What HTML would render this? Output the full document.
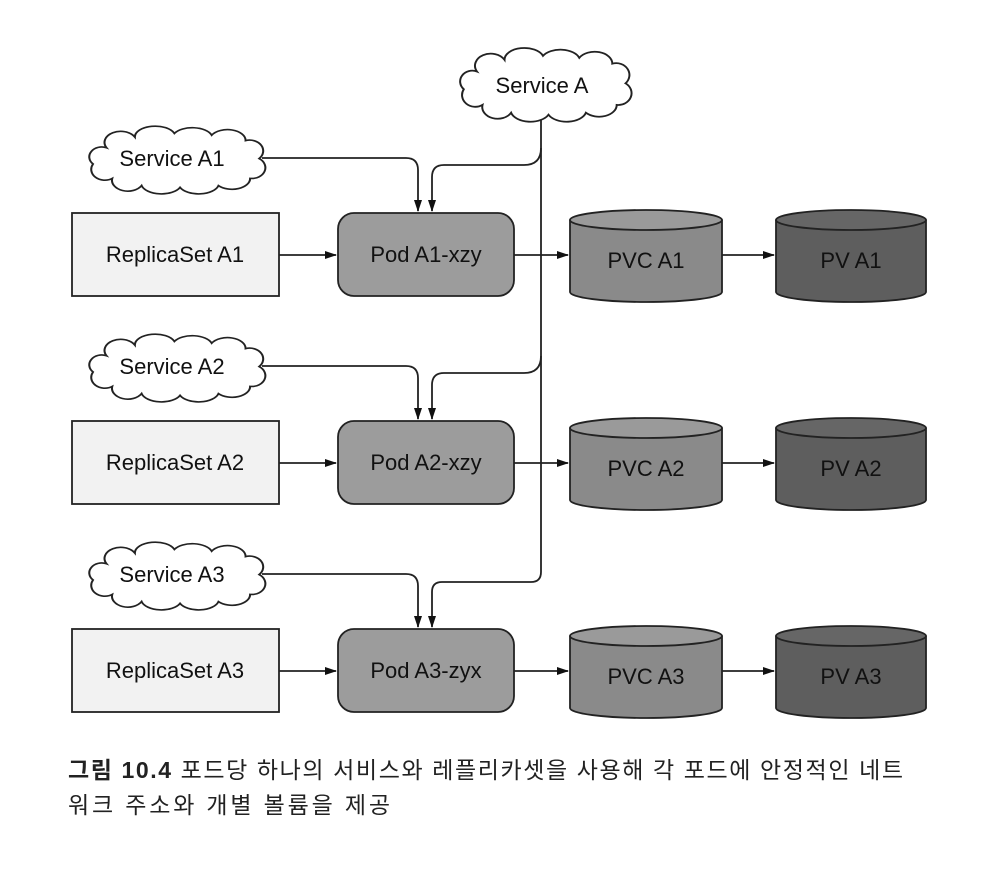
<!DOCTYPE html>
<html><head><meta charset="utf-8"><style>
body{margin:0;background:#fff;}
svg{display:block}
text{font-family:"Liberation Sans","Noto Sans CJK KR",sans-serif;}
</style></head><body>
<svg width="990" height="872" viewBox="0 0 990 872" xmlns="http://www.w3.org/2000/svg">
<defs>
<marker id="ah" markerWidth="12" markerHeight="10" refX="11" refY="5" orient="auto" markerUnits="userSpaceOnUse">
<path d="M0,1 L12,5 L0,9 z" fill="#111"/></marker>
<path id="cloud" d="M20,22 a14,12 0 0 1 25,-12 a18,12 0 0 1 35,-4 a18,12 0 0 1 33,2 a16,12 0 0 1 30,6 a12,12 0 0 1 12,20 a12,12 0 0 1 -8,22 a16,12 0 0 1 -28,8 a18,12 0 0 1 -34,2 a18,12 0 0 1 -34,-2 a14,12 0 0 1 -26,-8 a12,12 0 0 1 -17,-16 a11,11 0 0 1 12,-18 z" fill="#fff" stroke="#222" stroke-width="1.8"/>
</defs>
<g fill="none" stroke="#222" stroke-width="1.8">
<path d="M541,118 V572 Q541,582 531,582 H442 Q432,582 432,592 V627" marker-end="url(#ah)"/>
<path d="M541,148 Q541,165 524,165 H444 Q432,165 432,177 V211" marker-end="url(#ah)"/>
<path d="M541,356 Q541,373 524,373 H444 Q432,373 432,385 V419" marker-end="url(#ah)"/>
<path d="M262,158 H406 Q418,158 418,170 V211" marker-end="url(#ah)"/>
<path d="M262,366 H406 Q418,366 418,378 V419" marker-end="url(#ah)"/>
<path d="M262,574 H406 Q418,574 418,586 V627" marker-end="url(#ah)"/>
</g>
<use href="#cloud" transform="translate(455,50) scale(1.1,0.98)"/>
<text x="542" y="93" font-size="22" text-anchor="middle" fill="#111">Service A</text>
<g id="row1">
<use href="#cloud" transform="translate(84,128) scale(1.13,0.9)"/>
<text x="172" y="166" font-size="22" text-anchor="middle" fill="#111">Service A1</text>
<rect x="72" y="213" width="207" height="83" fill="#f2f2f2" stroke="#222" stroke-width="1.8"/>
<text x="175" y="262" font-size="22" text-anchor="middle" fill="#111">ReplicaSet A1</text>
<rect x="338" y="213" width="176" height="83" rx="16" fill="#9c9c9c" stroke="#222" stroke-width="1.8"/>
<text x="426" y="262" font-size="22" text-anchor="middle" fill="#111">Pod A1-xzy</text>
<path d="M570,220 V292 A76,10 0 0 0 722,292 V220" fill="#8a8a8a" stroke="#222" stroke-width="1.8"/>
<ellipse cx="646" cy="220" rx="76" ry="10" fill="#9a9a9a" stroke="#222" stroke-width="1.8"/>
<text x="646" y="268" font-size="22" text-anchor="middle" fill="#111">PVC A1</text>
<path d="M776,220 V292 A75,10 0 0 0 926,292 V220" fill="#5e5e5e" stroke="#222" stroke-width="1.8"/>
<ellipse cx="851" cy="220" rx="75" ry="10" fill="#666" stroke="#222" stroke-width="1.8"/>
<text x="851" y="268" font-size="22" text-anchor="middle" fill="#111">PV A1</text>
<g stroke="#222" stroke-width="1.8" fill="none">
<path d="M279,255 H336" marker-end="url(#ah)"/>
<path d="M514,255 H568" marker-end="url(#ah)"/>
<path d="M722,255 H774" marker-end="url(#ah)"/>
</g>
</g>
<g transform="translate(0,208)">
<use href="#cloud" transform="translate(84,128) scale(1.13,0.9)"/>
<text x="172" y="166" font-size="22" text-anchor="middle" fill="#111">Service A2</text>
<rect x="72" y="213" width="207" height="83" fill="#f2f2f2" stroke="#222" stroke-width="1.8"/>
<text x="175" y="262" font-size="22" text-anchor="middle" fill="#111">ReplicaSet A2</text>
<rect x="338" y="213" width="176" height="83" rx="16" fill="#9c9c9c" stroke="#222" stroke-width="1.8"/>
<text x="426" y="262" font-size="22" text-anchor="middle" fill="#111">Pod A2-xzy</text>
<path d="M570,220 V292 A76,10 0 0 0 722,292 V220" fill="#8a8a8a" stroke="#222" stroke-width="1.8"/>
<ellipse cx="646" cy="220" rx="76" ry="10" fill="#9a9a9a" stroke="#222" stroke-width="1.8"/>
<text x="646" y="268" font-size="22" text-anchor="middle" fill="#111">PVC A2</text>
<path d="M776,220 V292 A75,10 0 0 0 926,292 V220" fill="#5e5e5e" stroke="#222" stroke-width="1.8"/>
<ellipse cx="851" cy="220" rx="75" ry="10" fill="#666" stroke="#222" stroke-width="1.8"/>
<text x="851" y="268" font-size="22" text-anchor="middle" fill="#111">PV A2</text>
<g stroke="#222" stroke-width="1.8" fill="none">
<path d="M279,255 H336" marker-end="url(#ah)"/>
<path d="M514,255 H568" marker-end="url(#ah)"/>
<path d="M722,255 H774" marker-end="url(#ah)"/>
</g>
</g>
<g transform="translate(0,416)">
<use href="#cloud" transform="translate(84,128) scale(1.13,0.9)"/>
<text x="172" y="166" font-size="22" text-anchor="middle" fill="#111">Service A3</text>
<rect x="72" y="213" width="207" height="83" fill="#f2f2f2" stroke="#222" stroke-width="1.8"/>
<text x="175" y="262" font-size="22" text-anchor="middle" fill="#111">ReplicaSet A3</text>
<rect x="338" y="213" width="176" height="83" rx="16" fill="#9c9c9c" stroke="#222" stroke-width="1.8"/>
<text x="426" y="262" font-size="22" text-anchor="middle" fill="#111">Pod A3-zyx</text>
<path d="M570,220 V292 A76,10 0 0 0 722,292 V220" fill="#8a8a8a" stroke="#222" stroke-width="1.8"/>
<ellipse cx="646" cy="220" rx="76" ry="10" fill="#9a9a9a" stroke="#222" stroke-width="1.8"/>
<text x="646" y="268" font-size="22" text-anchor="middle" fill="#111">PVC A3</text>
<path d="M776,220 V292 A75,10 0 0 0 926,292 V220" fill="#5e5e5e" stroke="#222" stroke-width="1.8"/>
<ellipse cx="851" cy="220" rx="75" ry="10" fill="#666" stroke="#222" stroke-width="1.8"/>
<text x="851" y="268" font-size="22" text-anchor="middle" fill="#111">PV A3</text>
<g stroke="#222" stroke-width="1.8" fill="none">
<path d="M279,255 H336" marker-end="url(#ah)"/>
<path d="M514,255 H568" marker-end="url(#ah)"/>
<path d="M722,255 H774" marker-end="url(#ah)"/>
</g>
</g>
<text x="68" y="778" font-size="23" fill="#222" textLength="835" lengthAdjust="spacing"><tspan font-weight="bold">그림 10.4</tspan>  포드당 하나의 서비스와 레플리카셋을 사용해 각 포드에 안정적인 네트</text>
<text x="68" y="813" font-size="23" fill="#222" textLength="322" lengthAdjust="spacing">워크 주소와 개별 볼륨을 제공</text>
</svg>
</body></html>
